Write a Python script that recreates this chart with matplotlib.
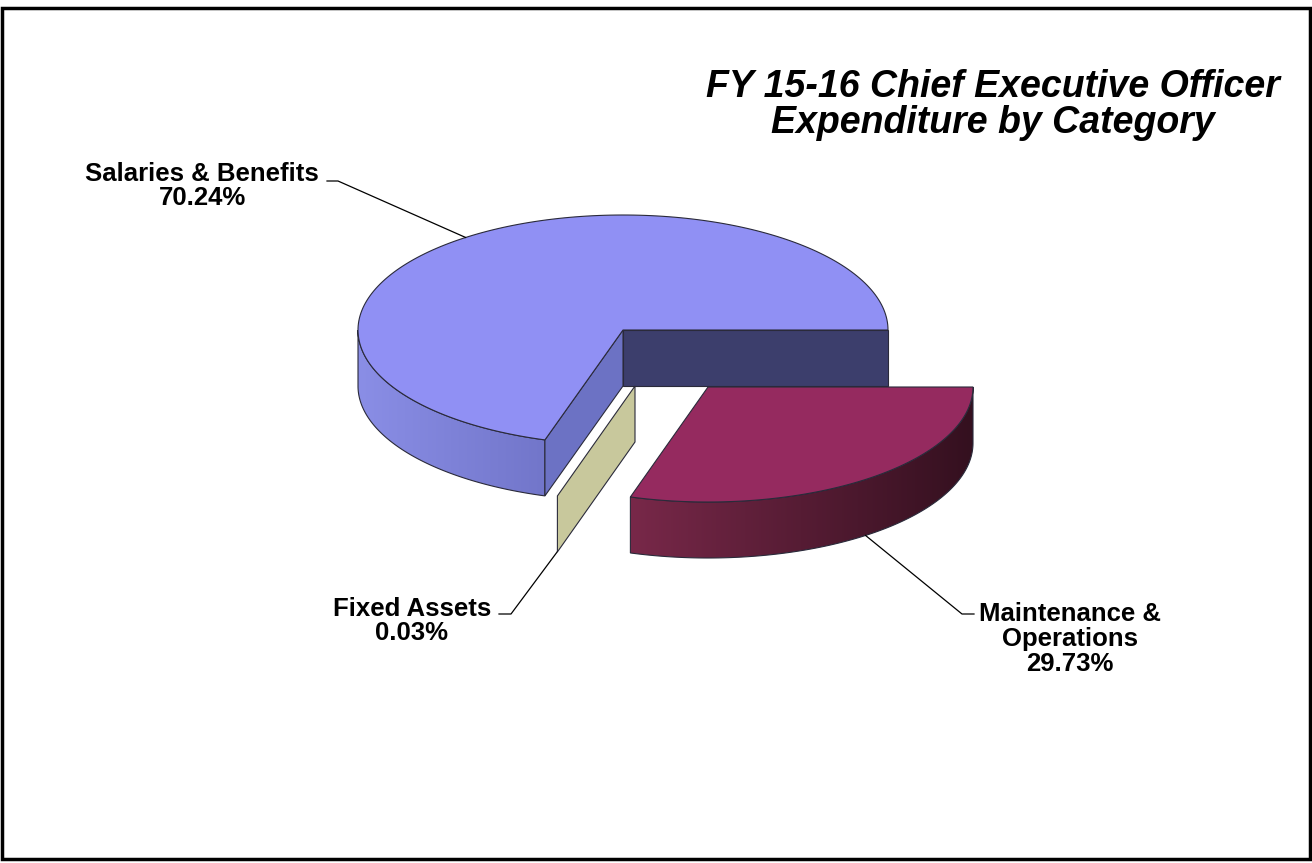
import numpy as np
import matplotlib
matplotlib.use("Agg")
import matplotlib.pyplot as plt
from matplotlib.patches import Polygon, Rectangle
from matplotlib.colors import to_rgb

# data
categories = ["Salaries & Benefits", "Fixed Assets", "Maintenance &\nOperations"]
shares = [70.24, 0.03, 29.73]
title_text = "FY 15-16 Chief Executive Officer\nExpenditure by Category"

# colours per slice
top_colors = ["#9090F4", "#C8C89C", "#952A5F"]
wall_colors = [("#8A8EE6", "#7276CA"), ("#C0C090", "#B0B080"), ("#782849", "#34101F")]
start_face_colors = ["#3C3E6C", "#C8C89C", "#5A1A35"]
end_face_colors = ["#6C72C4", "#C8C89C", "#5A1A35"]

# layout in pixel units (axes covers the whole figure, y pointing down)
W, H = 1312, 863
CX, CY = 623, 330
RX, RY = 265, 115
DEPTH = 56
offsets = [(0, 0), (12, 56), (85, 57)]
label_pos = [(202, 186), (412, 621), (1070, 639)]
stub = [((327, 181), (338, 181)), ((499, 614), (511, 614)), ((974, 614), (962, 614))]
EDGE = "#2A2A3A"


def rim(theta, off, down=0.0):
    t = np.radians(theta)
    return (CX + off[0] + RX * np.cos(t), CY + off[1] - RY * np.sin(t) + down)


def gradient_fill(ax, pts, c_left, c_right):
    poly = Polygon(pts, closed=True, fc="none", ec="none")
    ax.add_patch(poly)
    xs = [p[0] for p in pts]
    ys = [p[1] for p in pts]
    a, b = np.array(to_rgb(c_left)), np.array(to_rgb(c_right))
    f = np.linspace(0, 1, 256)[None, :, None]
    img = a + (b - a) * f
    im = ax.imshow(np.repeat(img, 2, axis=0), extent=(min(xs), max(xs), max(ys), min(ys)),
                   aspect="auto", interpolation="bilinear")
    im.set_clip_path(poly)


def draw_slice(ax, t0, t1, off, top_c, wall_c, sface_c, eface_c):
    center = (CX + off[0], CY + off[1])
    center_b = (center[0], center[1] + DEPTH)
    # outer wall, only the front half is visible
    a, b = max(t0, 180), min(t1, 360)
    if b - a > 0.5:
        steps = np.linspace(a, b, 200)
        outline = [rim(s, off) for s in steps] + [rim(s, off, DEPTH) for s in steps[::-1]]
        gradient_fill(ax, outline, wall_c[0], wall_c[1])
        ax.add_patch(Polygon(outline, closed=True, fill=False, ec=EDGE, lw=0.8))
    # radial cut faces that face the viewer
    if np.sin(np.radians(t0 - 90)) < 0 and t1 - t0 > 1:
        face = [center, rim(t0, off), rim(t0, off, DEPTH), center_b]
        ax.add_patch(Polygon(face, closed=True, fc=sface_c, ec=EDGE, lw=0.8))
    if np.sin(np.radians(t1 + 90)) < 0:
        face = [center, rim(t1, off), rim(t1, off, DEPTH), center_b]
        ax.add_patch(Polygon(face, closed=True, fc=eface_c, ec=EDGE, lw=0.8))
    # top
    if t1 - t0 > 0.5:
        arc = np.linspace(t0, t1, 200)
        pts = [center] + [rim(s, off) for s in arc]
        ax.add_patch(Polygon(pts, closed=True, fc=top_c, ec=EDGE, lw=0.8))


fig = plt.figure(figsize=(W / 100, H / 100), dpi=100)
ax = fig.add_axes([0, 0, 1, 1])
ax.axis("off")

total = sum(shares)
bounds = np.concatenate([[0], np.cumsum(shares) / total * 360])

for i in range(len(shares)):
    draw_slice(ax, bounds[i], bounds[i + 1], offsets[i], top_colors[i],
               wall_colors[i], start_face_colors[i], end_face_colors[i])

# labels with leader lines
for i, name in enumerate(categories):
    mid = 0.5 * (bounds[i] + bounds[i + 1])
    front = np.sin(np.radians(mid)) < 0
    anchor = rim(mid, offsets[i], DEPTH if front else 0)
    (x0, y0), (x1, y1) = stub[i]
    ax.plot([x0, x1, anchor[0]], [y0, y1, anchor[1]], color="black", lw=0.9)
    ax.text(label_pos[i][0], label_pos[i][1], f"{name}\n{shares[i]:.2f}%",
            ha="center", va="center", fontsize=18.5, fontweight="bold",
            family="Liberation Sans", linespacing=1.05)

ax.text(993, 105, title_text, ha="center", va="center", fontsize=27,
        fontweight="bold", fontstyle="italic", family="Liberation Sans",
        linespacing=1.0)

# chart border
ax.add_patch(Rectangle((2, 8), 1308, 851, fill=False, ec="black", lw=2.5))

ax.set_xlim(0, W)
ax.set_ylim(H, 0)
fig.savefig("out.png", dpi=100)
